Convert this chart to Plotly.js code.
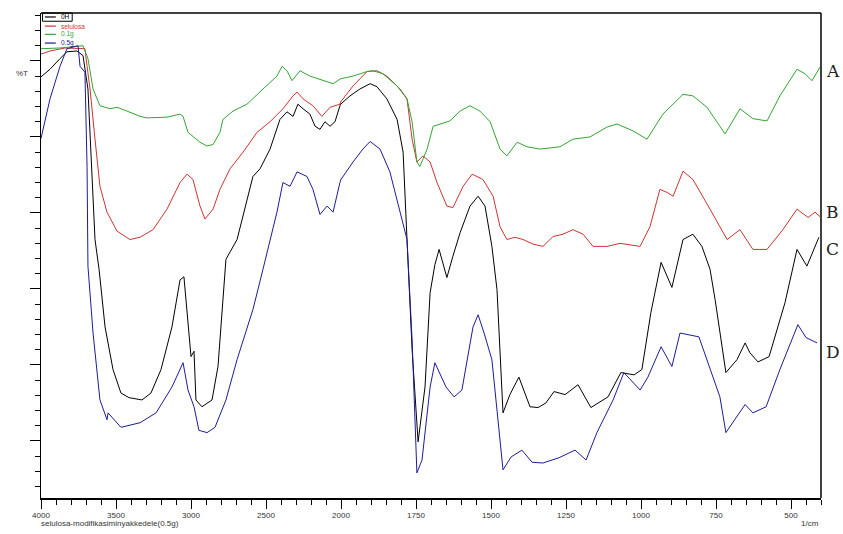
<!DOCTYPE html>
<html>
<head>
<meta charset="utf-8">
<script src="https://cdn.plot.ly/plotly-3.0.1.min.js"></script>
<style>html,body{margin:0;padding:0;background:#fff}#chart{width:843px;height:534px}</style>
</head>
<body>
<div id="chart"></div>
<script>
// Wavenumbers (1/cm) and %T readings for each spectrum
const greenWn = [4000,3873,3720,3687,3653,3607,3540,3493,3427,3340,3293,3160,3073,3053,3020,2940,2893,2853,2807,2787,2720,2627,2520,2427,2393,2360,2327,2273,2207,2120,2053,2007,1960,1913,1893,1860,1813,1780,1763,1747,1737,1713,1693,1637,1603,1570,1537,1503,1470,1447,1413,1380,1337,1270,1227,1170,1113,1080,1027,980,927,860,827,780,720,670,627,580,537,480,453,430,403];
const greenT  = [61.6,61.7,62.0,60.3,56.3,54.1,53.7,53.9,53.4,52.7,52.5,52.6,53.0,52.7,50.6,49.3,48.8,49.0,50.6,52.3,53.4,54.3,56.3,58.0,59.3,58.7,57.4,58.7,58.0,57.4,57.0,57.6,58.0,58.6,58.7,58.3,56.7,55.0,52.0,46.7,46.1,48.4,51.4,52.1,53.4,54.1,53.4,52.0,48.4,47.5,49.3,48.7,48.4,48.7,49.7,50.0,51.3,51.7,50.8,49.7,53.0,55.6,55.4,53.9,50.4,53.7,52.4,52.1,55.4,58.9,58.3,57.4,59.2];

const redWn = [4000,3940,3840,3707,3693,3673,3640,3607,3560,3493,3407,3340,3253,3160,3073,3027,2987,2940,2907,2853,2807,2740,2653,2560,2473,2387,2320,2293,2253,2187,2127,2073,2007,1960,1913,1880,1847,1803,1780,1763,1747,1727,1703,1680,1647,1627,1593,1563,1527,1493,1470,1447,1420,1393,1360,1327,1293,1260,1227,1193,1160,1113,1070,1003,970,937,913,893,860,827,770,713,670,627,580,527,480,443,420,403];
const redT  = [60.9,61.3,61.7,61.6,59.3,56.3,49.7,43.5,40.1,37.6,36.5,36.8,37.8,40.5,44.0,45.1,44.4,40.9,39.2,40.5,43.1,45.8,48.0,50.6,52.0,53.7,55.4,55.9,55.0,54.1,52.7,53.9,54.3,56.7,58.6,58.7,58.0,56.3,55.0,49.7,46.7,47.5,46.7,44.0,40.9,40.7,43.5,45.1,44.4,42.2,38.2,36.5,36.8,36.5,35.9,35.6,36.9,37.2,37.8,37.2,35.6,35.6,36.0,35.6,38.2,43.1,42.7,42.2,45.5,44.4,40.5,36.5,37.8,35.2,35.2,37.8,40.5,39.4,40.1,39.5];

const blackWn = [4000,3940,3873,3827,3760,3720,3687,3660,3640,3613,3573,3520,3467,3413,3327,3267,3200,3127,3073,3047,3020,3000,2980,2967,2927,2860,2820,2767,2693,2627,2587,2540,2473,2407,2360,2320,2287,2253,2207,2173,2140,2107,2073,2040,2007,1970,1937,1903,1880,1847,1813,1793,1780,1763,1743,1720,1703,1687,1673,1647,1627,1603,1570,1543,1520,1497,1480,1460,1437,1407,1370,1343,1317,1290,1253,1210,1167,1110,1067,1023,997,967,933,897,860,827,797,770,753,717,680,653,637,610,573,520,480,447,407];
const blackT  = [57.9,58.9,60.3,61.2,61.3,60.7,56.3,45.4,36.5,32.6,25.0,19.4,16.3,15.7,15.4,16.3,19.4,25.0,31.2,31.6,25.0,21.1,21.8,15.4,14.5,15.4,19.8,33.9,36.5,41.8,44.8,45.8,48.4,52.3,53.3,52.7,54.3,53.7,53.0,51.4,51.0,52.0,51.4,52.0,54.1,55.4,56.3,57.0,56.6,55.0,52.3,48.0,36.5,22.0,9.9,17.1,29.5,33.2,35.2,31.5,34.3,37.4,40.9,42.2,40.9,35.6,29.9,13.7,16.1,18.4,14.5,14.4,15.0,16.5,16.1,17.4,14.4,15.8,19.0,18.7,19.4,26.9,33.5,30.2,36.5,37.2,35.6,32.6,28.6,19.0,20.7,22.9,21.6,20.4,21.1,28.2,35.2,33.0,36.8];

const blueWn = [4000,3940,3873,3827,3753,3740,3707,3693,3687,3653,3607,3560,3553,3467,3340,3233,3127,3053,3020,2980,2947,2893,2840,2767,2693,2587,2520,2473,2427,2387,2340,2293,2227,2187,2140,2093,2053,2007,1960,1927,1903,1870,1837,1803,1780,1763,1747,1730,1703,1687,1650,1623,1597,1560,1543,1523,1497,1460,1433,1397,1363,1327,1273,1220,1183,1147,1093,1057,1003,977,933,897,870,807,737,717,680,653,627,583,537,477,450,413];
const blueT  = [49.8,55.0,59.3,61.6,62.0,59.3,58.5,46.1,33.0,24.2,15.4,12.8,13.7,11.8,12.4,13.7,17.1,20.3,16.7,14.5,11.4,11.1,11.8,15.4,20.7,27.3,32.6,36.5,40.1,44.0,43.5,45.4,44.8,43.1,39.8,40.9,40.1,44.0,46.7,48.4,49.4,48.4,45.4,40.1,36.5,23.3,5.8,7.5,17.1,20.3,17.1,15.8,16.7,25.0,26.6,24.2,20.7,6.2,7.9,8.8,7.2,7.1,7.8,8.8,7.5,11.1,15.4,19.0,16.7,18.4,22.4,19.8,24.2,23.7,15.8,11.1,13.2,14.8,13.7,14.5,19.4,25.3,23.6,22.9];

const seriesNames = ['0H', 'selulosa', '0.1g', '0.5g'];
const seriesColors = ['#000000', '#cc3333', '#33a533', '#1c1c96'];
const curveLabels = ['C', 'B', 'A', 'D'];
const xTickLeft = [4000, 3500, 3000, 2500];
const xTickRight = [2000, 1750, 1500, 1250, 1000, 750, 500];

const spectra = [[blackWn, blackT], [redWn, redT], [greenWn, greenT], [blueWn, blueT]];

const traces = [];
spectra.forEach(([wn, t], i) => {
  const li = wn.map((w, k) => k).filter(k => wn[k] >= 2000);
  const lastL = li[li.length - 1];
  const leftIdx = lastL + 1 < wn.length ? li.concat([lastL + 1]) : li;
  const rightIdx = [lastL].concat(wn.map((w, k) => k).filter(k => wn[k] < 2000));
  traces.push({x: leftIdx.map(k => wn[k]), y: leftIdx.map(k => t[k]), xaxis: 'x', yaxis: 'y',
    type: 'scatter', mode: 'lines', line: {color: seriesColors[i], width: 1}, name: seriesNames[i], showlegend: false});
  traces.push({x: rightIdx.map(k => wn[k]), y: rightIdx.map(k => t[k]), xaxis: 'x2', yaxis: 'y',
    type: 'scatter', mode: 'lines', line: {color: seriesColors[i], width: 1}, name: seriesNames[i], showlegend: false});
});

const labelY = {A: 58.7, B: 40.1, C: 35.2, D: 21.7};
const annotations = curveLabels.map(L => ({
  text: L, xref: 'paper', yref: 'y', x: 1.004, y: labelY[L], xanchor: 'left', yanchor: 'middle',
  showarrow: false, font: {family: 'DejaVu Serif', size: 17, color: '#222'}
}));
annotations.push({text: '%T', xref: 'paper', yref: 'paper', x: -0.024, y: 0.876, xanchor: 'center', yanchor: 'middle', showarrow: false,
  font: {family: 'Liberation Sans', size: 8, color: '#333'}});
annotations.push({text: 'selulosa-modifikasiminyakkedele(0.5g)', xref: 'paper', yref: 'paper', x: -0.003, y: -0.04,
  xanchor: 'left', yanchor: 'top', showarrow: false, font: {family: 'Liberation Sans', size: 8, color: '#333'}});
annotations.push({text: '1/cm', xref: 'paper', yref: 'paper', x: 1.0, y: -0.04,
  xanchor: 'right', yanchor: 'top', showarrow: false, font: {family: 'Liberation Sans', size: 8, color: '#333'}});

// compact legend (inside top-left of the plot)
const legY = [0.9918, 0.973, 0.956, 0.938];
const shapes = [
  {type: 'line', xref: 'paper', yref: 'paper', x0: 0, x1: 1, y0: 1, y1: 1, line: {color: '#000', width: 1.5}},
  {type: 'line', xref: 'paper', yref: 'paper', x0: 1, x1: 1, y0: 0, y1: 1, line: {color: '#000', width: 1.5}},
  {type: 'rect', xref: 'paper', yref: 'paper', x0: 0.002, x1: 0.040, y0: 0.983, y1: 1.0, line: {color: '#000', width: 1}}
];
seriesNames.forEach((n, i) => {
  shapes.push({type: 'line', xref: 'paper', yref: 'paper', x0: 0.005, x1: 0.019, y0: legY[i], y1: legY[i],
    line: {color: seriesColors[i], width: 1.2}});
  annotations.push({text: n, xref: 'paper', yref: 'paper', x: 0.023, y: legY[i], xanchor: 'left', yanchor: 'middle',
    showarrow: false, font: {family: 'Liberation Sans', size: 6.5, color: seriesColors[i]}});
});

const split = 300 / 780;
const tickFont = {family: 'Liberation Sans', size: 8, color: '#333'};
const layout = {
  width: 843, height: 534,
  margin: {l: 41, r: 22, t: 13, b: 36},
  paper_bgcolor: '#ffffff', plot_bgcolor: '#ffffff',
  showlegend: false,
  xaxis: {domain: [0, split], range: [4000, 2000], tickmode: 'array', tickvals: xTickLeft,
    ticks: 'outside', ticklen: 9, tickcolor: '#000', showline: true, linecolor: '#000', linewidth: 1.5,
    showgrid: false, zeroline: false, tickfont: tickFont, anchor: 'y',
    minor: {tickmode: 'linear', tick0: 0, dtick: 100, ticks: 'outside', ticklen: 5, tickcolor: '#000'}},
  xaxis2: {domain: [split, 1], range: [2000, 400], tickmode: 'array', tickvals: xTickRight,
    ticks: 'outside', ticklen: 9, tickcolor: '#000', showline: true, linecolor: '#000', linewidth: 1.5,
    showgrid: false, zeroline: false, tickfont: tickFont, anchor: 'y',
    minor: {tickmode: 'linear', tick0: 0, dtick: 50, ticks: 'outside', ticklen: 5, tickcolor: '#000'}},
  yaxis: {range: [2.5, 66.3], tickmode: 'linear', tick0: 0, dtick: 10, showticklabels: false,
    ticks: 'outside', ticklen: 10, tickcolor: '#000', showline: true, linecolor: '#000', linewidth: 1.5,
    showgrid: false, zeroline: false,
    minor: {tickmode: 'linear', tick0: 0, dtick: 2, ticks: 'outside', ticklen: 5, tickcolor: '#000'}},
  shapes: shapes,
  annotations: annotations
};

Plotly.newPlot('chart', traces, layout, {displayModeBar: false, staticPlot: true});
</script>
</body>
</html>
